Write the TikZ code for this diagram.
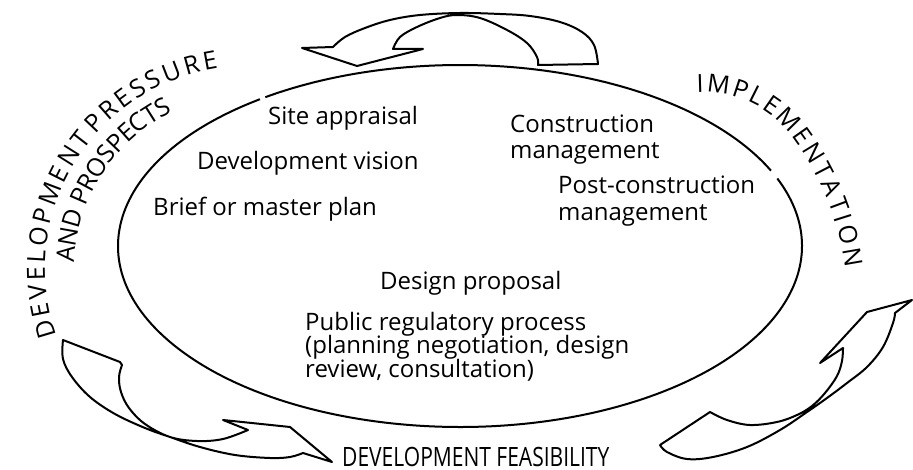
\documentclass[tikz,border=0pt]{standalone}
\usepackage{fontspec}
\setmainfont{Open Sans}
\newfontfamily\condfont[FakeStretch=0.79]{Open Sans}
\newcommand\crvfont{\fontsize{25}{25}\selectfont}
\begin{document}
\begin{tikzpicture}[x=1pt,y=1pt,
  lbl/.style={anchor=base west, inner sep=0pt, font=\fontsize{24}{26}\selectfont},
  crv/.style={anchor=base, inner sep=0pt, font=\crvfont},
  outline/.style={line width=2pt, line join=round}
]
\useasboundingbox (0,0) rectangle (913,469);

% main ellipse with two small gaps
\draw[outline] (460,223) ++(24.6:342 and 181) arc[start angle=24.6, end angle=124.7, x radius=342, y radius=181];
\draw[outline] (460,223) ++(125.8:342 and 181) arc[start angle=125.8, end angle=381.9, x radius=342, y radius=181];

% inner texts
\node[lbl] (site) at (268,344) {Site appraisal};
\node[lbl] (vision) at (197,299) {Development vision};
\node[lbl] (brief) at (153,253) {Brief or master plan};
\node[lbl] (cons1) at (510,336) {Construction};
\node[lbl] (cons2) at (510,310) {management};
\node[lbl] (post1) at (558,275) {Post-construction};
\node[lbl] (post2) at (558,248) {management};
\node[lbl] (design) at (380,179) {Design proposal};
\node[lbl] (pub1) at (305,139) {Public regulatory process};
\node[lbl] (pub2) at (305,115.5) {(planning negotiation, design};
\node[lbl] (pub3) at (305,92) {review, consultation)};

% curved outer texts, letter by letter
\foreach \c/\a [count=\i] in {D/196.6,E/191.2,V/186.3,E/181.4,L/176.7,O/171.2,P/165.5,M/159.3,E/153.3,N/147.8,T/142.3,P/136.4,R/131.2,E/126.2,S/121.4,S/116.6,U/111.2,R/105.5,E/100.4}
  \node[crv, rotate=\a-90] (dp\i) at ([shift={(248,200)}]\a:203) {\c};
\foreach \c/\a [count=\i] in {A/175.3,N/169.8,D/163.9,P/156.5,R/151.7,O/146.2,S/140.9,P/136.3,E/131.7,C/127.0,T/122.3,S/118.0}
  \node[crv, rotate=\a-90] (ap\i) at ([shift={(248,200)}]\a:174) {\c};
\foreach \c/\a [count=\i] in {I/91.6,M/82.68,P/71.82,L/63.28,E/55.03,M/44.46}
  \node[crv, rotate=\a-90] (ima\i) at ([shift={(703.4,266.3)}]\a:110.6) {\c};
\foreach \c/\a [count=\i] in {E/35.26,N/31.35,T/27.45,A/23.87,T/20.28,I/17.55,O/14.26,N/9.8}
  \node[crv, rotate=\a-90] (imb\i) at ([shift={(560.3,161.6)}]\a:288) {\c};

\node[anchor=base west, inner sep=0pt, font={\condfont\fontsize{26.6}{27}\selectfont}] (feas) at (342,3) {DEVELOPMENT FEASIBILITY};

% top arrow
\draw[outline] plot[smooth, tension=0.6] coordinates {(598,405) (594,424) (582,437) (560,447) (530,453) (500,455) (460,456) (420,454) (390,449) (365,441) (345,432) (333,422)}
  -- (302,421) -- (357,403) -- (423,420)
  -- plot[smooth, tension=0.6] coordinates {(393,420) (400,432) (417,442) (440,451) (457,454) (480,451) (507,439) (527,426) (537,412) (538,404)} -- cycle;

% left arrow
\draw[outline] (63,129) -- (120,107)
  -- plot[smooth, tension=0.6] coordinates {(122,104) (119,92) (121,77) (129,61) (145,45) (170,32) (197,28) (223,30) (248,39)}
  -- (223,49) -- (290,42) -- (332,7)
  -- plot[smooth, tension=0.6] coordinates {(303,16) (290,12) (270,11) (235,14) (200,22) (170,32) (145,41) (115,55) (90,72) (72,92) (63,110) (63,129)} -- cycle;

% right arrow
\draw[outline] (660,24)
  -- plot[smooth, tension=0.6] coordinates {(710,57) (727,49) (750,44) (777,47) (797,54) (812,63) (825,76) (837,93) (842,108) (843,121)}
  -- (820,106) -- (867,157) -- (912,169)
  -- plot[smooth, tension=0.6] coordinates {(895,156) (893,146) (883,122) (867,102) (847,86) (827,71) (807,57) (780,39) (747,22) (713,12) (687,10) (667,17) (660,24)} -- cycle;
\end{tikzpicture}
\end{document}
